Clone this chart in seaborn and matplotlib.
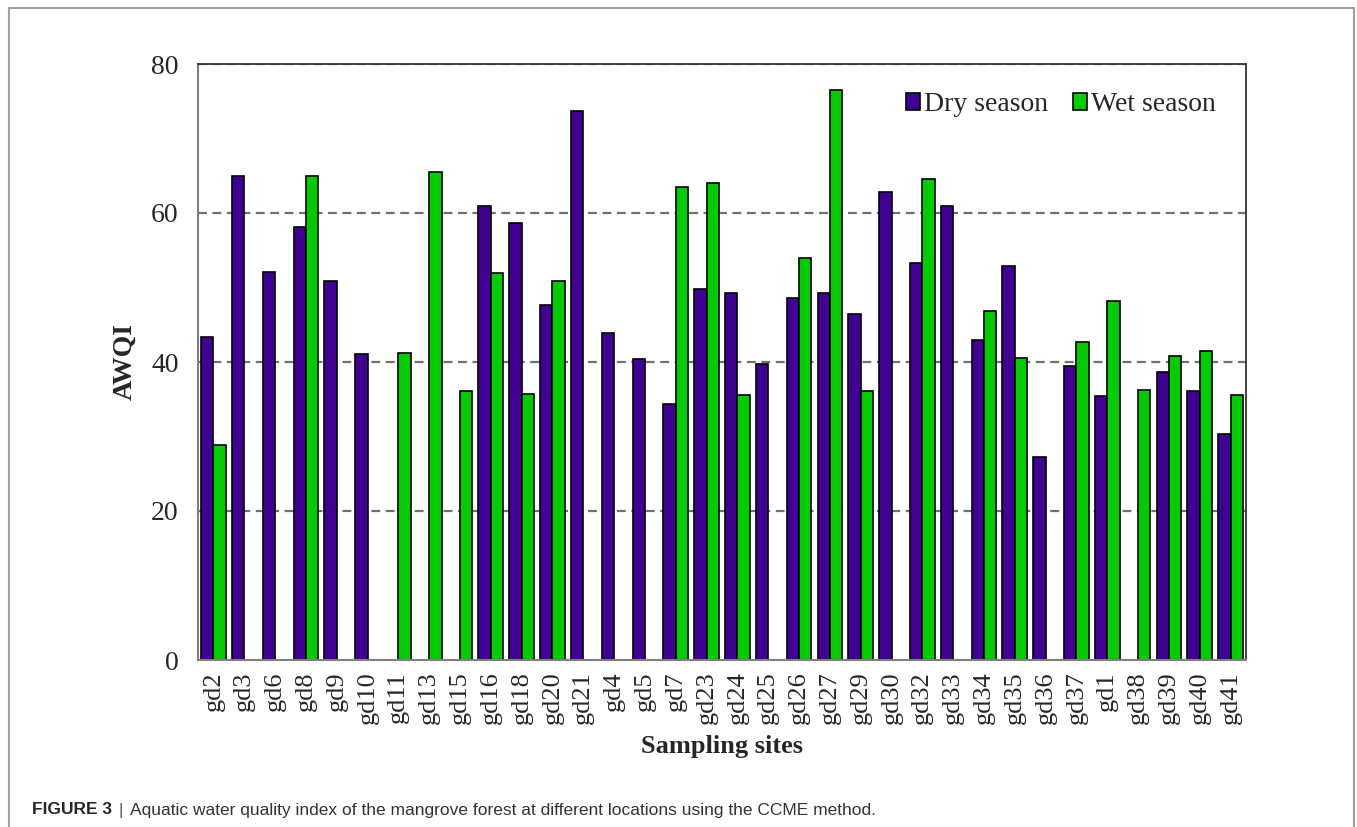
import numpy as np
import pandas as pd
import matplotlib
matplotlib.use("Agg")
import matplotlib.pyplot as plt
from matplotlib.lines import Line2D
from matplotlib.patches import Patch
import seaborn as sns

sites = ["gd2", "gd3", "gd6", "gd8", "gd9", "gd10", "gd11", "gd13", "gd15", "gd16",
         "gd18", "gd20", "gd21", "gd4", "gd5", "gd7", "gd23", "gd24", "gd25", "gd26",
         "gd27", "gd29", "gd30", "gd32", "gd33", "gd34", "gd35", "gd36", "gd37", "gd1",
         "gd38", "gd39", "gd40", "gd41"]
nan = np.nan
dry_season = [43.4, 65.0, 52.1, 58.1, 50.9, 41.1, nan, nan, nan, 60.9,
              58.7, 47.7, 73.7, 43.9, 40.4, 34.4, 49.8, 49.3, 39.7, 48.6,
              49.3, 46.5, 62.8, 53.3, 60.9, 42.9, 52.9, 27.2, 39.4, 35.4,
              nan, 38.7, 36.1, 30.3]
wet_season = [28.8, nan, nan, 64.9, nan, nan, 41.2, 65.5, 36.1, 51.9,
              35.7, 50.9, nan, nan, nan, 63.5, 64.0, 35.6, nan, 54.0,
              76.5, 36.1, nan, 64.6, nan, 46.8, 40.6, nan, 42.7, 48.2,
              36.2, 40.8, 41.5, 35.6]
seasons = ["Dry season", "Wet season"]
colors = ["#400094", "#00CC00"]
y_ticks = [0, 20, 40, 60, 80]

df = pd.DataFrame({
    "site": sites * 2,
    "season": [seasons[0]] * len(sites) + [seasons[1]] * len(sites),
    "AWQI": dry_season + wet_season,
})

sns.set_theme(style="white")
plt.rcParams["font.family"] = ["Liberation Serif", "DejaVu Serif"]

fig = plt.figure(figsize=(13.57, 8.27), dpi=100)
ax = fig.add_axes([198 / 1357, 1 - 660 / 827, (1246 - 198) / 1357, (660 - 64) / 827])

sns.barplot(data=df, x="site", y="AWQI", hue="season", order=sites,
            hue_order=seasons, palette=colors, width=0.8, gap=0,
            edgecolor="black", linewidth=1.2, saturation=1, ax=ax, legend=False)

# dashed reference lines behind the bars
ax.set_axisbelow(True)
for yv in y_ticks[1:]:
    ax.axhline(yv, color="#707070", linestyle=(0, (4, 2.5)), linewidth=1.6, zorder=0)

ax.set_ylim(0, 80)
ax.set_xlim(-0.5, len(sites) - 0.5)
ax.set_yticks(y_ticks)
ax.set_yticklabels([str(v) for v in y_ticks], fontsize=20)
ax.tick_params(axis="y", direction="in", length=5, width=1, color="#909090", pad=14)
ax.set_xticks(range(len(sites)))
ax.set_xticklabels(sites, rotation=90, fontsize=19)
ax.tick_params(axis="x", length=0, pad=8)
ax.set_xticks(np.arange(-0.5, len(sites), 1.0), minor=True)
ax.tick_params(axis="x", which="minor", direction="in", length=5, width=1, color="#909090")

ax.set_ylabel("AWQI", fontsize=20, fontweight="bold", labelpad=10)
ax.set_xlabel("Sampling sites", fontsize=19, fontweight="bold", labelpad=8)

for side in ["left", "bottom"]:
    ax.spines[side].set_color("#808080")
    ax.spines[side].set_linewidth(1.5)
for side in ["top", "right"]:
    ax.spines[side].set_color("#333333")
    ax.spines[side].set_linewidth(1.3)

handles = [Patch(facecolor=c, edgecolor="black", linewidth=1.2) for c in colors]
ax.legend(handles, seasons, loc="upper right", bbox_to_anchor=(0.99, 0.985),
          ncol=2, frameon=False, fontsize=20, handlelength=0.5, handleheight=0.6,
          handletextpad=0.15, columnspacing=0.9, borderaxespad=0.3)

# figure frame and caption
frame_kw = dict(color="#A0A0A0", linewidth=1.5, transform=fig.transFigure)
fig.add_artist(Line2D([9 / 1357, 9 / 1357], [0, 1 - 8 / 827], **frame_kw))
fig.add_artist(Line2D([9 / 1357, 1354 / 1357], [1 - 8 / 827, 1 - 8 / 827], **frame_kw))
fig.add_artist(Line2D([1354 / 1357, 1354 / 1357], [0, 1 - 8 / 827], **frame_kw))

cap_y = 1 - 810 / 827
t1 = fig.text(32 / 1357, cap_y, "FIGURE 3", fontsize=12.5, fontweight="bold",
              family=["Liberation Sans", "DejaVu Sans"], va="center", ha="left")
fig.canvas.draw()
bb = t1.get_window_extent()
fig.text((bb.x1 + 6) / 1357, cap_y, "|", fontsize=12.5, color="#555555",
         family=["Liberation Sans", "DejaVu Sans"], va="center", ha="left")
fig.text((bb.x1 + 18) / 1357, cap_y,
         "Aquatic water quality index of the mangrove forest at different locations using the CCME method.",
         fontsize=12.5, color="#333333", family=["Liberation Sans", "DejaVu Sans"],
         va="center", ha="left")

fig.savefig("out.png", dpi=100)
